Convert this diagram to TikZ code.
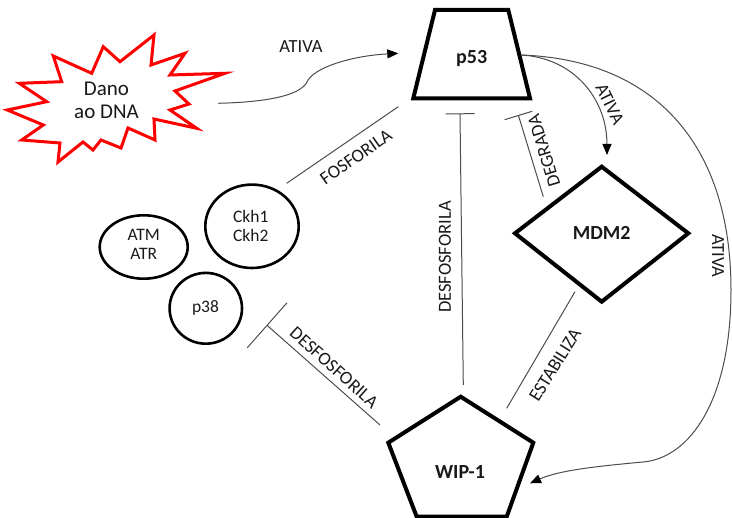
\documentclass[tikz,border=0pt]{standalone}
\usepackage{fontspec}
\setmainfont{Carlito}
\usetikzlibrary{arrows.meta}
\begin{document}
\begin{tikzpicture}[x=1pt,y=-1pt,
  conn/.style={draw=black!70, line width=1pt},
  act/.style={conn, -{Triangle[length=11pt,width=9pt,color=black]}},
  inh/.style={conn, -{Bar[width=#1]}},
  big/.style={draw=black, line width=4pt, line join=miter},
  circ/.style={draw=black, line width=2.6pt},
  burst/.style={draw=red, line width=3pt, line join=miter, fill=white},
  btext/.style={font=\fontsize{20}{24}\selectfont\bfseries, text=black!90, inner sep=0pt},
  ctext/.style={font=\fontsize{17.5}{19}\selectfont, text=black!90, align=center, inner sep=0pt},
  dtext/.style={font=\fontsize{21}{22.5}\selectfont, text=black!90, align=center, inner sep=0pt},
  elabel/.style={font=\fontsize{18.5}{20}\selectfont, text=black!90, inner sep=0pt}]
\useasboundingbox (0,0) rectangle (732,518);

% Dano ao DNA burst
\draw[burst] (53.3,56) -- (91.7,73.3) -- (103.3,46.7) -- (120,61.7) -- (154,35) -- (151,65)
  -- (185,53.3) -- (170,75) -- (225,73.3) -- (175,91) -- (189,104) -- (170,110)
  -- (196.7,128.3) -- (154,119) -- (155,140) -- (128,128) -- (121,148) -- (101,140)
  -- (93,150) -- (83,142) -- (58,162) -- (60,143) -- (21.7,140) -- (43.3,125)
  -- (7.3,110) -- (46.7,101.7) -- (19.3,83.3) -- (61.7,81.7) -- cycle;
\node[dtext] (dano) at (106.5,100.5) {Dano\\ao DNA};

% p53
\draw[big] (435,10) -- (508.3,10) -- (530,98.3) -- (413.3,98.3) -- cycle;
\node[btext] (p53) at (471.7,59) {p53};

% MDM2
\draw[big] (601.7,166.7) -- (688.3,233.3) -- (601.7,301.7) -- (515,233.3) -- cycle;
\node[btext] (mdm2) at (601.7,233) {MDM2};

% WIP-1
\draw[big] (460.7,396.7) -- (533.3,442.7) -- (506.7,516.7) -- (416.7,516.7) -- (388.3,442.7) -- cycle;
\node[btext] (wip) at (460,471.7) {WIP-1};

% circles
\draw[circ] (143.7,247) ellipse [x radius=44, y radius=31.7];
\node[ctext] (atm) at (143.7,244.5) {ATM\\ATR};
\draw[circ] (252,226.3) ellipse [x radius=46.7, y radius=41.7];
\node[ctext] (ckh) at (250.7,226) {Ckh1\\Ckh2};
\draw[circ] (205.8,308.3) ellipse [x radius=36.2, y radius=35.4];
\node[ctext] (p38) at (205.5,308) {p38};

% connector end points
\coordinate (danoOut) at (218.3,103.3);
\coordinate (p53In) at (398.3,53.3);
\coordinate (p53R) at (521,55);
\coordinate (mdmTop) at (607,155);
\coordinate (wipR) at (530,483.3);
\coordinate (degA) at (543.3,196.7);
\coordinate (degB) at (518.3,115);
\coordinate (desA) at (463.3,385);
\coordinate (desB) at (460,113.3);
\coordinate (dfA) at (380,425);
\coordinate (dfB) at (266.7,325);
\coordinate (fosA) at (286.7,183.3);
\coordinate (fosB) at (398.3,106.7);
\coordinate (estA) at (506.7,408.3);
\coordinate (estB) at (575,291.7);

% connectors
\draw[act] (danoOut) .. controls (270,102) and (300,95) .. (307,82)
  .. controls (313,68) and (350,56) .. (p53In);
\draw[act] (p53R) .. controls (575,58) and (607,100) .. (mdmTop);
\draw[act] (p53R) .. controls (660,60) and (731,150) .. (731,290)
  .. controls (731,400) and (690,458) .. (643,462)
  .. controls (600,466) and (560,470) .. (wipR);
\draw[inh=29pt] (degA) -- (degB);
\draw[inh=29pt] (desA) -- (desB);
\draw[inh=60pt] (dfA) -- (dfB);
\draw[conn] (fosA) -- (fosB);
\draw[conn] (estA) -- (estB);

% labels
\node[elabel] (l1) at (301,46.7) {ATIVA};
\node[elabel, rotate=-64] (l2) at (610,104) {ATIVA};
\node[elabel, rotate=-90] (l3) at (718,256) {ATIVA};
\node[elabel, rotate=107] (l4) at (544,151) {DEGRADA};
\node[elabel, rotate=90] (l5) at (445,257) {DESFOSFORILA};
\node[elabel, rotate=-42] (l6) at (334,367.5) {DESFOSFORILA};
\node[elabel, rotate=58] (l7) at (555,365) {ESTABILIZA};
\node[elabel, rotate=35] (l8) at (356,157) {FOSFORILA};
\end{tikzpicture}
\end{document}
